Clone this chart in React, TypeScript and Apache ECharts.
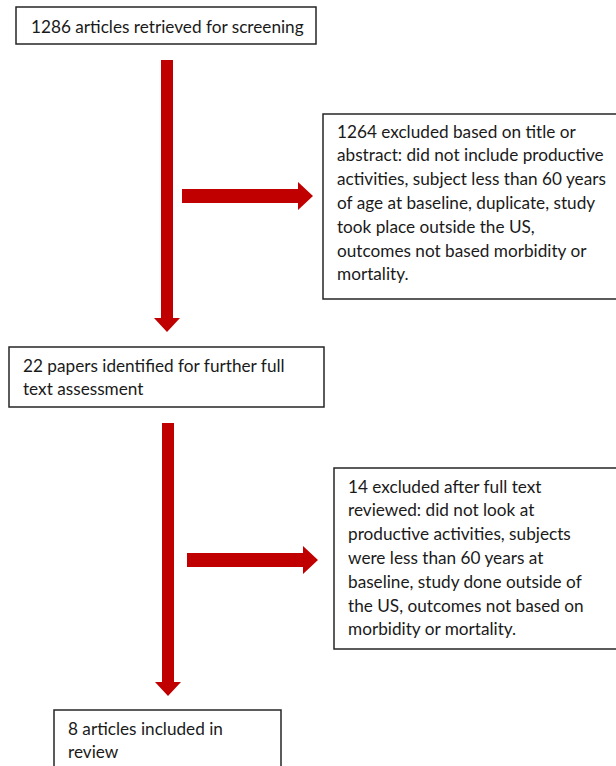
import React, { useEffect, useRef } from "react";
import * as echarts from "echarts";

const box1Lines = ["1286 articles retrieved for screening"];
const box2Lines = [
  "1264 excluded based on title or",
  "abstract: did not include productive",
  "activities, subject less than 60 years",
  "of age at baseline, duplicate, study",
  "took place outside the US,",
  "outcomes not based morbidity or",
  "mortality.",
];
const box3Lines = ["22 papers identified for further full", "text assessment"];
const box4Lines = [
  "14 excluded after full text",
  "reviewed: did not look at",
  "productive activities, subjects",
  "were less than 60 years at",
  "baseline, study done outside of",
  "the US, outcomes not based on",
  "morbidity or mortality.",
];
const box5Lines = ["8 articles included in", "review"];

const RED = "#c00000";
const FONT = "Lato";
const FS = 17.2;
const LH = 23.8;

function vArrow(cx: number, y0: number, y1: number) {
  const sw = 6, hw = 13, hl = 14;
  return {
    type: "polygon",
    shape: {
      points: [
        [cx - sw, y0], [cx + sw, y0], [cx + sw, y1 - hl], [cx + hw, y1 - hl],
        [cx, y1], [cx - hw, y1 - hl], [cx - sw, y1 - hl],
      ],
    },
    style: { fill: RED },
  };
}
function hArrow(cy: number, x0: number, x1: number) {
  const sw = 7, hw = 14, hl = 15;
  return {
    type: "polygon",
    shape: {
      points: [
        [x0, cy - sw], [x1 - hl, cy - sw], [x1 - hl, cy - hw], [x1, cy],
        [x1 - hl, cy + hw], [x1 - hl, cy + sw], [x0, cy + sw],
      ],
    },
    style: { fill: RED },
  };
}
function box(x: number, y: number, w: number, h: number) {
  return {
    type: "rect",
    shape: { x, y, width: w, height: h },
    style: { fill: "#ffffff", stroke: "#262626", lineWidth: 1.5 },
  };
}
function lines(arr: string[], x: number, y: number) {
  return arr.map((t, i) => ({
    type: "text",
    x,
    y: y + i * LH,
    style: {
      text: t,
      fill: "#1a1a1a",
      font: `${FS}px ${FONT}`,
      textVerticalAlign: "middle",
      verticalAlign: "middle",
      align: "left",
    },
  }));
}

export default function App() {
  const ref = useRef<HTMLDivElement>(null);
  useEffect(() => {
    const chart = echarts.init(ref.current!, undefined, { renderer: "svg" });
    chart.setOption({
      animation: false,
      backgroundColor: "#ffffff",
      graphic: [
        box(16, 7, 300, 37),
        box(323, 114, 300, 185),
        box(9, 347, 315, 60),
        box(334, 468, 290, 181),
        box(54, 710, 227, 70),
        vArrow(167, 60, 332),
        hArrow(196, 182, 313),
        vArrow(168, 423, 696),
        hArrow(560, 187, 318),
        ...lines(box1Lines, 31, 26),
        ...lines(box2Lines, 337, 131),
        ...lines(box3Lines, 23, 365),
        ...lines(box4Lines, 348, 486),
        ...lines(box5Lines, 68, 728),
      ],
    });
    return () => chart.dispose();
  }, []);
  return (
    <div
      ref={ref}
      style={{ position: "fixed", left: 0, top: 0, width: 616, height: 766 }}
    />
  );
}
